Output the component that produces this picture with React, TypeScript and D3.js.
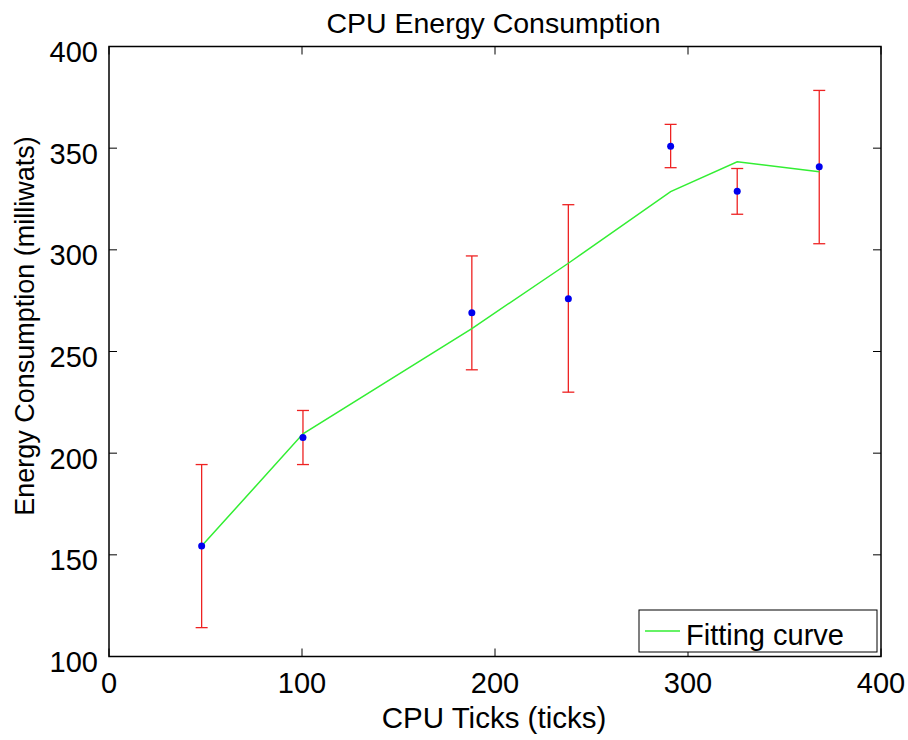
import React from "react";
import * as d3 from "d3";

const xs = [48, 100.5, 188, 238, 291, 325.5, 368];
const means = [154.3, 207.7, 269, 276, 351, 328.8, 340.8];
const errLow = [114.2, 194.4, 241, 230, 340.4, 317.5, 303];
const errHigh = [194.4, 221, 297, 322.2, 361.7, 340, 378.4];
const fit = [154.3, 209.5, 261.3, 293.4, 328.6, 343.3, 338.4];
const xTicks = [0, 100, 200, 300, 400];
const yTicks = [100, 150, 200, 250, 300, 350, 400];

const W = 908, H = 740;
const L = 109, R = 881, T = 46.5, B = 656.5;
const FONT = "'Liberation Sans', Arial, Helvetica, sans-serif";

export default function App() {
  const x = d3.scaleLinear().domain([0, 400]).range([L, R]);
  const y = d3.scaleLinear().domain([100, 400]).range([B, T]);
  const line = d3.line<number>().x((_, i) => x(xs[i])).y((d) => y(d));
  const tl = 8;
  return (
    <svg width={W} height={H} style={{ position: "absolute", left: 0, top: 0, background: "#fff" }}>
      <rect x={0} y={0} width={W} height={H} fill="#fff" />
      <text x={493.5} y={33} textAnchor="middle" fontFamily={FONT} fontSize={28.5} fill="#000">CPU Energy Consumption</text>
      {xTicks.map((t) => (
        <g key={"xt" + t}>
          <line x1={x(t)} x2={x(t)} y1={B} y2={B - tl} stroke="#000" strokeWidth={1} />
          <line x1={x(t)} x2={x(t)} y1={T} y2={T + tl} stroke="#000" strokeWidth={1} />
          <text x={x(t)} y={693} textAnchor="middle" fontFamily={FONT} fontSize={29} fill="#000">{t}</text>
        </g>
      ))}
      {yTicks.map((t) => (
        <g key={"yt" + t}>
          <line x1={L} x2={L + tl} y1={y(t)} y2={y(t)} stroke="#000" strokeWidth={1} />
          <line x1={R} x2={R - tl} y1={y(t)} y2={y(t)} stroke="#000" strokeWidth={1} />
          <text x={98} y={y(t) + 15.5} textAnchor="end" fontFamily={FONT} fontSize={29} fill="#000">{t}</text>
        </g>
      ))}
      <rect x={L} y={T} width={R - L} height={B - T} fill="none" stroke="#000" strokeWidth={1.5} />
      <text x={494} y={728} textAnchor="middle" fontFamily={FONT} fontSize={29.5} fill="#000">CPU Ticks (ticks)</text>
      <text transform={`translate(34,326) rotate(-90)`} textAnchor="middle" fontFamily={FONT} fontSize={27} fill="#000">Energy Consumption (milliwats)</text>
      {xs.map((v, i) => (
        <g key={"e" + i} stroke="#ee2222" strokeWidth={1.3}>
          <line x1={x(v)} x2={x(v)} y1={y(errLow[i])} y2={y(errHigh[i])} />
          <line x1={x(v) - 6} x2={x(v) + 6} y1={y(errLow[i])} y2={y(errLow[i])} />
          <line x1={x(v) - 6} x2={x(v) + 6} y1={y(errHigh[i])} y2={y(errHigh[i])} />
        </g>
      ))}
      <path d={line(fit) || ""} fill="none" stroke="#33ee33" strokeWidth={1.5} />
      {xs.map((v, i) => (
        <circle key={"p" + i} cx={x(v)} cy={y(means[i])} r={3.5} fill="#0000ee" />
      ))}
      <rect x={639} y={610} width={238} height={42} fill="#fff" stroke="#000" strokeWidth={1} />
      <line x1={645} x2={680} y1={631} y2={631} stroke="#33ee33" strokeWidth={1.5} />
      <text x={686} y={645} fontFamily={FONT} fontSize={29} fill="#000">Fitting curve</text>
    </svg>
  );
}
